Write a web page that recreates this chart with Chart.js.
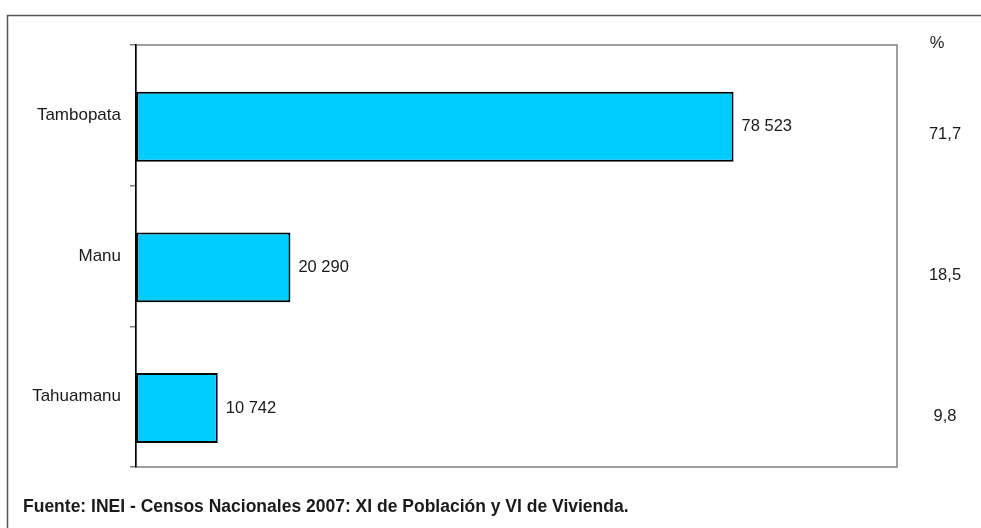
<!DOCTYPE html>
<html>
<head>
<meta charset="utf-8">
<script src="https://cdn.jsdelivr.net/npm/chart.js@4"></script>
<style>
  html, body { margin: 0; padding: 0; background: #fff; }
  #wrap { width: 981px; height: 528px; position: relative; }
</style>
</head>
<body>
<div id="wrap"><canvas id="chart" width="981" height="528"></canvas></div>
<script>
const provinces = ['Tambopata', 'Manu', 'Tahuamanu'];
const population = [78523, 20290, 10742];
const percents = [71.7, 18.5, 9.8];
const xMax = 100000;
const source = 'Fuente: INEI - Censos Nacionales 2007: XI de Población y VI de Vivienda.';

const FONT = '"Liberation Sans Narrow", "Arial Narrow", "Liberation Sans", Arial, sans-serif';

function fmtThousands(n) {
  return String(n).replace(/\B(?=(\d{3})+(?!\d))/g, ' ');
}
function fmtPct(n) {
  return n.toFixed(1).replace('.', ',');
}

const frame = {
  id: 'frame',
  beforeDraw(chart) {
    const { ctx, chartArea: a } = chart;
    ctx.save();
    // outer box, cropped on right and bottom
    ctx.strokeStyle = '#555';
    ctx.lineWidth = 1.5;
    ctx.beginPath();
    ctx.moveTo(7.5, 600);
    ctx.lineTo(7.5, 15.5);
    ctx.lineTo(990, 15.5);
    ctx.stroke();
    // plot area box
    ctx.strokeStyle = '#808080';
    ctx.lineWidth = 1.5;
    ctx.strokeRect(a.left, a.top, a.right - a.left, a.bottom - a.top);
    ctx.restore();
  },
  afterDraw(chart) {
    const { ctx } = chart;
    const meta = chart.getDatasetMeta(1);
    ctx.save();
    ctx.fillStyle = '#1a1a1a';
    ctx.font = '16.5px ' + FONT;
    ctx.textBaseline = 'middle';
    ctx.textAlign = 'left';
    meta.data.forEach((bar, i) => {
      ctx.fillText(fmtThousands(population[i]), bar.x + 8, bar.y);
    });
    ctx.textAlign = 'center';
    ctx.fillText('%', 937, 43);
    meta.data.forEach((bar, i) => {
      ctx.fillText(fmtPct(percents[i]), 945, bar.y + 8);
    });
    ctx.textAlign = 'left';
    ctx.font = 'bold 17.5px ' + FONT;
    ctx.fillText(source, 23, 507);
    ctx.restore();
  }
};

new Chart(document.getElementById('chart'), {
  type: 'bar',
  data: {
    labels: provinces,
    datasets: [
      // percent series, kept as an invisible slot like the original Excel chart
      { label: '%', data: percents, backgroundColor: 'rgba(0,0,0,0)', borderWidth: 0 },
      { label: 'Población', data: population, backgroundColor: '#00ccff', borderColor: '#000', borderWidth: 2, borderSkipped: false },
    ],
  },
  options: {
    indexAxis: 'y',
    responsive: false,
    animation: false,
    categoryPercentage: 0.324,
    barPercentage: 3.07,
    layout: { padding: { top: 45, right: 84, bottom: 61, left: 0 } },
    plugins: { legend: { display: false }, tooltip: { enabled: false } },
    scales: {
      x: { min: 0, max: xMax, display: false },
      y: {
        afterFit(scale) { scale.width = 136; },
        grid: { offset: true, drawOnChartArea: false, tickLength: 6, color: '#808080', lineWidth: 1.5 },
        border: { color: '#000', width: 1.5 },
        ticks: { color: '#1a1a1a', font: { family: FONT, size: 17 }, padding: 9 },
      },
    },
  },
  plugins: [frame],
});
</script>
</body>
</html>
